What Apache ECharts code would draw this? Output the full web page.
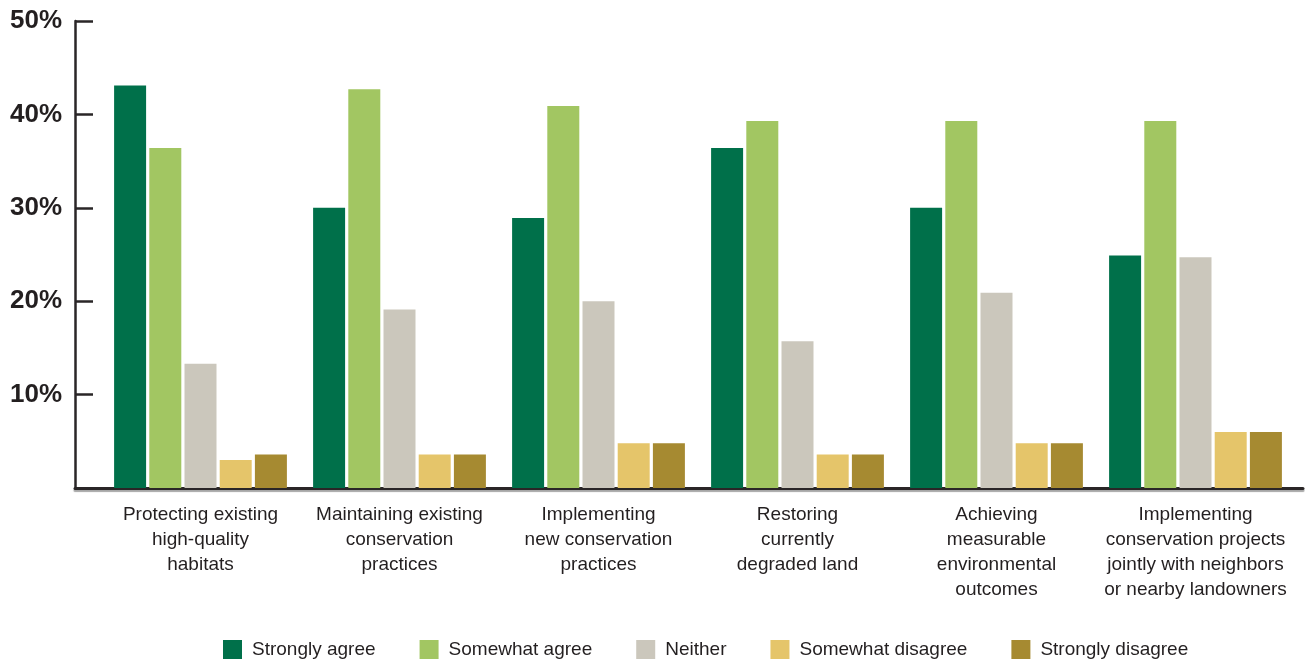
<!DOCTYPE html>
<html>
<head>
<meta charset="utf-8">
<script src="https://cdn.jsdelivr.net/npm/echarts@6/dist/echarts.min.js"></script>
<style>
html,body{margin:0;padding:0;background:#fff;}
#chart{width:1305px;height:664px;}
</style>
</head>
<body>
<div id="chart"></div>
<script>
var categories = [
  "Protecting existing\nhigh-quality\nhabitats",
  "Maintaining existing\nconservation\npractices",
  "Implementing\nnew conservation\npractices",
  "Restoring\ncurrently\ndegraded land",
  "Achieving\nmeasurable\nenvironmental\noutcomes",
  "Implementing\nconservation projects\njointly with neighbors\nor nearby landowners"
];
var seriesNames = ["Strongly agree", "Somewhat agree", "Neither", "Somewhat disagree", "Strongly disagree"];
var stronglyAgree    = [43.1, 30.0, 28.9, 36.4, 30.0, 24.9];
var somewhatAgree    = [36.4, 42.7, 40.9, 39.3, 39.3, 39.3];
var neither          = [13.3, 19.1, 20.0, 15.7, 20.9, 24.7];
var somewhatDisagree = [3.0, 3.6, 4.8, 3.6, 4.8, 6.0];
var stronglyDisagree = [3.6, 3.6, 4.8, 3.6, 4.8, 6.0];
var yTicks = [0, 10, 20, 30, 40, 50];

var colors = ["#00704A", "#A2C662", "#CBC7BC", "#E5C56A", "#A68A31"];
var allData = [stronglyAgree, somewhatAgree, neither, somewhatDisagree, stronglyDisagree];

var chart = echarts.init(document.getElementById('chart'), null, {renderer: 'canvas'});
var font = '"Liberation Sans", Arial, Helvetica, sans-serif';

var series = seriesNames.map(function (name, i) {
  return {
    name: name,
    type: 'bar',
    xAxisIndex: 0,
    yAxisIndex: 0,
    data: allData[i],
    barWidth: 32,
    barGap: '10%',
    itemStyle: {color: colors[i]},
    emphasis: {disabled: true}
  };
});

chart.setOption({
  animation: false,
  color: colors,
  grid: [
    {left: 101, right: 10, top: 21, bottom: 176, containLabel: false},
    {left: 75, right: 2, top: 21, bottom: 176, containLabel: false}
  ],
  legend: {
    data: seriesNames,
    left: 218,
    top: 635,
    itemWidth: 19,
    itemHeight: 19,
    itemGap: 44,
    icon: 'rect',
    textStyle: {fontFamily: font, fontSize: 19, color: '#231F20', padding: [0, 0, 0, 5]}
  },
  xAxis: [
    {
      type: 'category',
      gridIndex: 0,
      data: categories,
      axisLine: {show: false},
      axisTick: {show: false},
      axisLabel: {
        interval: 0,
        margin: 14,
        fontFamily: font,
        fontSize: 19,
        lineHeight: 25,
        color: '#231F20'
      }
    },
    {
      type: 'value',
      gridIndex: 1,
      min: 0,
      max: 1,
      axisLine: {show: true, lineStyle: {color: '#2a2627', width: 3, shadowColor: 'rgba(0,0,0,0.35)', shadowOffsetY: 2, shadowBlur: 1}},
      axisTick: {show: false},
      axisLabel: {show: false},
      splitLine: {show: false}
    }
  ],
  yAxis: [
    {
      type: 'value',
      gridIndex: 0,
      min: yTicks[0],
      max: yTicks[yTicks.length - 1],
      interval: 10,
      offset: 26,
      axisLine: {show: true, lineStyle: {color: '#2a2627', width: 2.5}},
      axisTick: {show: true, inside: true, length: 18, lineStyle: {color: '#2a2627', width: 2.5}},
      splitLine: {show: false},
      axisLabel: {
        margin: 13,
        fontFamily: font,
        fontSize: 26,
        fontWeight: 'bold',
        color: '#231F20',
        formatter: function (v) { return v === 0 ? '' : v + '%'; }
      }
    },
    {
      type: 'value',
      gridIndex: 1,
      show: false,
      min: 0,
      max: 1
    }
  ],
  series: series
});
</script>
</body>
</html>
